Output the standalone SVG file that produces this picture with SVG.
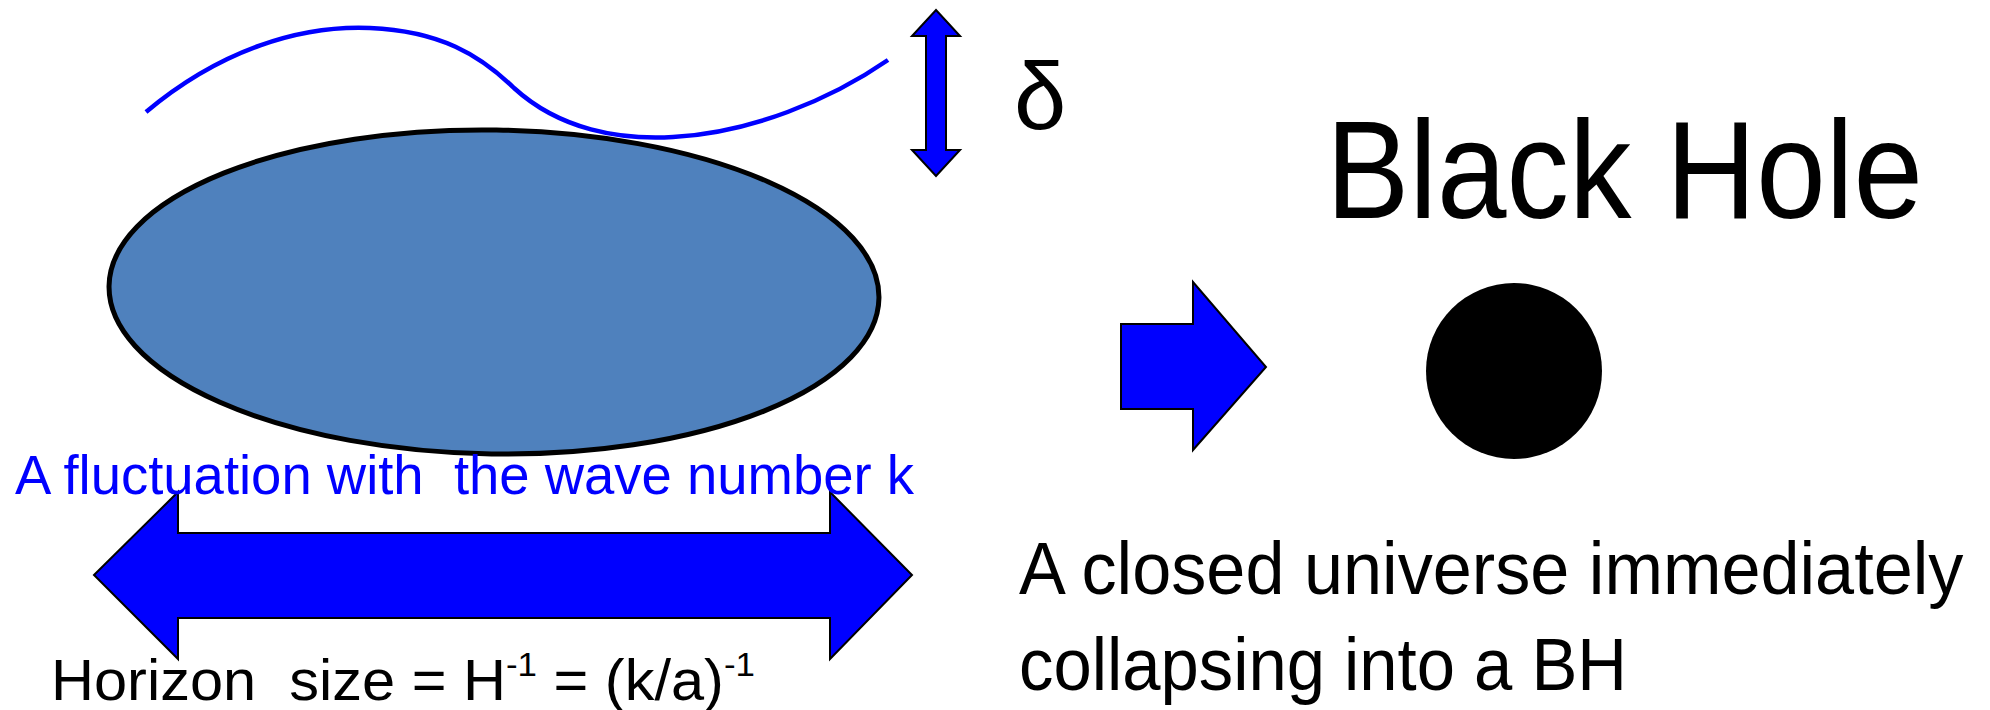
<svg xmlns="http://www.w3.org/2000/svg" width="1990" height="710" viewBox="0 0 1990 710">
<style>
.txt{font-family:"Liberation Sans","DejaVu Sans",sans-serif;white-space:pre;}
.blk{fill:#000;}
.blue{fill:#0000FF;}
.arrow{fill:#0000FF;stroke:#000;stroke-width:2;stroke-linejoin:miter;}
</style>
<rect width="1990" height="710" fill="#fff"/>
<g id="wave">
<path d="M146,112 C220,50 300,25 370,28 C440,31 480,55 514,88 C560,130 620,140 673,137 C750,133 830,100 888,60" fill="none" stroke="#0000FF" stroke-width="4.5"/>
</g>
<g id="fluctuation">
<ellipse cx="494" cy="292" rx="385" ry="162" fill="#4F81BD" stroke="#000" stroke-width="5" transform="rotate(0.9 494 292)"/>
</g>
<g id="connectors">
<polygon id="delta-arrow" class="arrow" points="936,10 960,36 946,36 946,150 960,150 936,176 912,150 926,150 926,36 912,36"/>
<polygon id="horizon-arrow" class="arrow" points="94,575 178,492 178,533 830,533 830,492 912,575 830,659 830,618 178,618 178,659"/>
<polygon id="collapse-arrow" class="arrow" points="1121,324 1193,324 1193,282 1266,367 1193,450 1193,409 1121,409"/>
</g>
<g id="delta-label"><text class="txt blk" x="1014" y="129" font-size="94">δ</text></g>
<g id="bh-title"><text class="txt blk" x="0" y="0" font-size="140" transform="translate(1326 218) scale(0.892 1)">Black Hole</text></g>
<g id="black-hole"><circle cx="1514" cy="371" r="88" fill="#000"/></g>
<g id="fluct-label"><text class="txt blue" x="15" y="494" font-size="56" textLength="899" lengthAdjust="spacingAndGlyphs">A fluctuation with  the wave number k</text></g>
<g id="horizon-label"><text class="txt blk" x="51" y="700" font-size="58" textLength="704" lengthAdjust="spacingAndGlyphs">Horizon  size = H<tspan font-size="34" dy="-24">-1</tspan><tspan dy="24"> = (k/a)</tspan><tspan font-size="34" dy="-24">-1</tspan></text></g>
<g id="bh-caption">
<text class="txt blk" x="0" y="0" font-size="74" transform="translate(1019 594) scale(0.949 1)">A closed universe immediately</text>
<text class="txt blk" x="1019" y="690" font-size="74" textLength="608" lengthAdjust="spacingAndGlyphs">collapsing into a BH</text>
</g>
</svg>
